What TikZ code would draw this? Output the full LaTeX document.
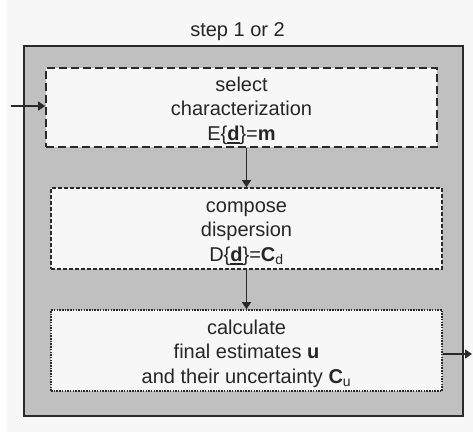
\documentclass[tikz,border=0pt]{standalone}
\usepackage{fontspec}
\setmainfont{Liberation Sans}
\usetikzlibrary{arrows.meta}

\definecolor{pagebg}{HTML}{F7F7F7}
\definecolor{panelgray}{HTML}{C0C0C0}
\definecolor{ink}{HTML}{262626}
\definecolor{edge}{HTML}{2A2A2A}

% bold, underlined vector symbol
\newcommand{\ulvec}[1]{\setbox0\hbox{\textbf{#1}}\rlap{\rule[-4pt]{\wd0}{2pt}}\box0}

\begin{document}
\begin{tikzpicture}[x=1pt,y=-1pt,
  txt/.style={font=\fontsize{20}{24.5}\selectfont, text=ink, align=center, inner sep=0pt},
  panelbox/.style={draw=edge, line width=1.6pt, fill=panelgray, inner sep=0pt},
  stepbox/.style={fill=pagebg, draw=edge, line width=1.6pt, inner sep=0pt,
                  minimum width=391pt},
  flow/.style={draw=edge, line width=1.4pt, -{Triangle[length=7pt,width=9pt]}}
]
  % page
  \fill[white] (0,0) rectangle (473,435);
  \fill[pagebg] (7,0) rectangle (473,432);
  \useasboundingbox (0,0) rectangle (473,435);

  % title and surrounding panel
  \node[txt, anchor=base] (title) at (237.5,37) {step 1 or 2};
  \node[panelbox, minimum width=439pt, minimum height=370pt] (panel) at (243.5,231) {};

  % the three sub-steps: frames
  \node[stepbox, minimum height=79pt, dash pattern=on 8pt off 4pt] (b1) at (241.5,107.5) {};
  \node[stepbox, minimum height=81pt, dash pattern=on 4pt off 2pt] (b2) at (246.5,228.5) {};
  \node[stepbox, minimum height=81pt, dash pattern=on 1.5pt off 1.2pt] (b3) at (246.5,350.5) {};

  % the three sub-steps: texts
  \node[txt] (t1) at ([yshift=-3pt]b1.center)
    {select\\characterization\\E\{\ulvec{d}\}=\textbf{m}};
  \node[txt] (t2) at ([yshift=-5pt]b2.center)
    {compose\\dispersion\\D\{\ulvec{d}\}=\textbf{C}\textsubscript{d}};
  \node[txt] (t3) at ([yshift=-3pt]b3.center)
    {calculate\\final estimates \textbf{u}\\and their uncertainty \textbf{C}\textsubscript{u}};

  % connectors
  \coordinate (src) at (11,106);
  \coordinate (dst) at (472,354);
  \draw[flow] (src) -- (src -| b1.west);
  \draw[flow] (b1.south -| b2.north) -- (b2.north);
  \draw[flow] (b2.south) -- (b3.north);
  \draw[flow] (dst -| b3.east) -- (dst);
\end{tikzpicture}
\end{document}
